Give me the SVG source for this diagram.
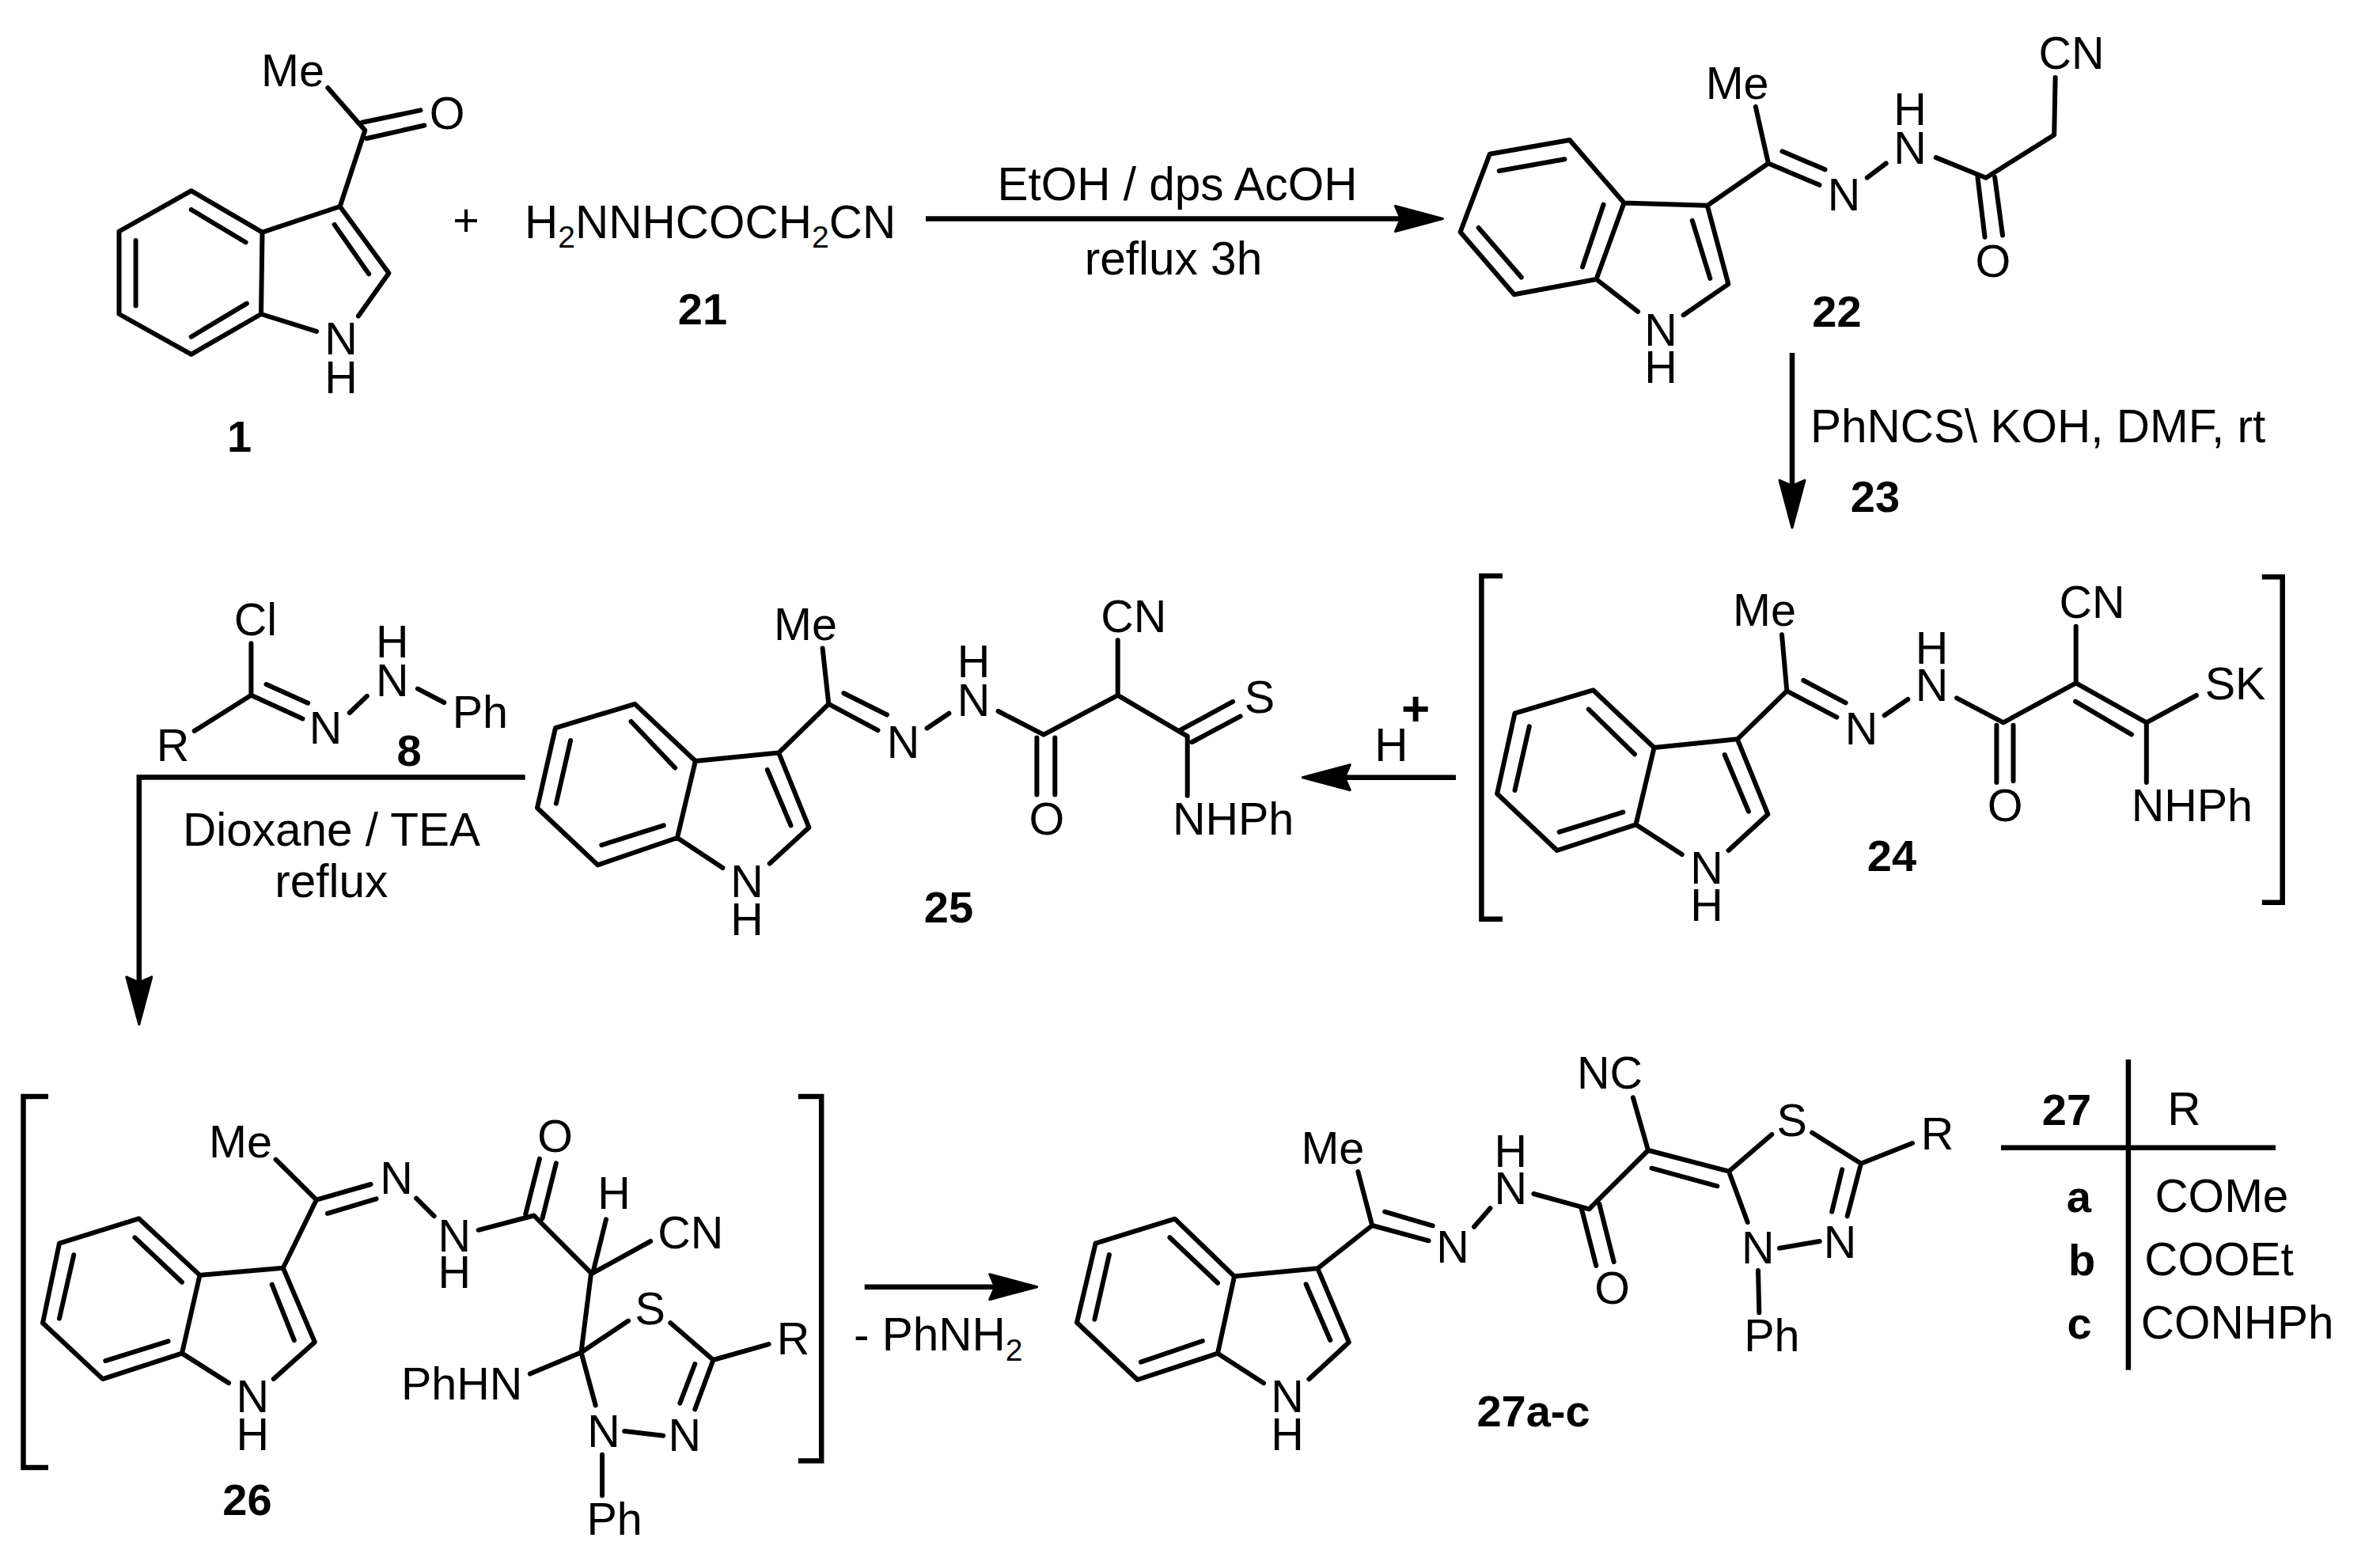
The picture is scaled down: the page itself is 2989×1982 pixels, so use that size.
<svg xmlns="http://www.w3.org/2000/svg" width="2989" height="1982" viewBox="0 0 2989 1982">
<style>
text{font-family:"Liberation Sans",Arial,sans-serif;font-size:57.5px;fill:#000;text-anchor:middle}
.r{font-size:58.5px}
.b{font-weight:bold;font-size:56px}
.l{text-anchor:start}
.sub{font-size:39px}
.bond{fill:none;stroke:#000;stroke-width:6;stroke-linecap:round;stroke-linejoin:round}
.br{fill:none;stroke:#000;stroke-width:6.5;stroke-linecap:butt;stroke-linejoin:miter}
.arrow{fill:none;stroke:#000;stroke-width:6.5;stroke-linecap:butt;stroke-linejoin:miter;marker-end:url(#head)}
</style>
<defs>
<marker id="head" markerUnits="userSpaceOnUse" viewBox="-3 -21 68 42" refX="7" refY="0" markerWidth="68" markerHeight="42" orient="auto">
<path d="M0,-16 L60,0 L0,16 L7,0 Z" fill="#000" stroke="#000" stroke-width="3" stroke-linejoin="round"/>
</marker>
</defs>
<rect width="2989" height="1982" fill="#fff"/>

<g id="connectors">
<path class="arrow" d="M1170,276.5 H1770.4"/>
<path class="arrow" d="M2265,446 V614"/>
<path class="arrow" d="M1840,982.7 H1699.3"/>
<path class="arrow" d="M663.7,982.4 H175.8 V1241.9"/>
<path class="arrow" d="M1092.7,1626.7 H1257.7"/>
</g>

<g id="arrow-labels">
<text class="r" x="1488" y="253.3">EtOH / dps AcOH</text>
<text class="r" x="1483" y="347.3">reflux 3h</text>
<text class="r l" x="2288" y="559">PhNCS\ KOH, DMF, rt</text>
<text class="b" x="2370" y="646.7">23</text>
<text class="r" x="1758.3" y="961.7">H</text>
<text class="b" x="1789" y="917" style="font-size:62px">+</text>
<text class="r" x="419" y="1069.3">Dioxane / TEA</text>
<text class="r" x="418.8" y="1134">reflux</text>
<text class="r l" x="1079" y="1707.3">- PhNH<tspan class="sub" dy="13">2</tspan></text>
</g>

<g id="compound-1">
<path class="bond" d="M331.5,293.6 L241.7,241.2 L150.5,292.5 L150.5,397 L241.7,447.9 L330,397 Z M331.5,293.6 L429.7,261 L491.4,345.3 L452.9,399.6 M330,397 L400,418.8 M429.7,261 L461.3,164.7 L414.3,111 M531.4,139.4 L457.8,154.7 M536.3,158.5 L463.4,175 M241.7,265 L310.5,306.3 M171.6,304 V386.6 M241.7,425.7 L311.9,383.6 M422.7,284 L466.2,346.4"/>
<text x="370" y="108.8">Me</text>
<text x="565" y="163">O</text>
<text x="431" y="447.9">N</text>
<text x="431" y="496.5">H</text>
<text class="b" x="302.7" y="571">1</text>
</g>
<text id="plus" x="589" y="298">+</text>
<g id="compound-21">
<text class="r l" x="663" y="300.5">H<tspan class="sub" dy="12.5">2</tspan><tspan dy="-12.5">NNHCOCH</tspan><tspan class="sub" dy="12.5">2</tspan><tspan dy="-12.5">CN</tspan></text>
<text class="b" x="888" y="409.6">21</text>
</g>

<g id="compound-22">
<path class="bond" d="M1983.8,177 L1882.8,194.8 L1845.6,293.2 L1913.6,372.2 L2017.5,353 L2052.5,256.4 Z M2052.5,256.4 L2157.8,259.8 L2184.4,359.1 L2127.6,398.2 M2017.5,353 L2070,393.8 M2157.8,259.8 L2234.9,206.5 L2218.8,134.9 M2234.9,206.5 L2299.5,233.8 M2252.5,191.3 L2306.5,214.3 M2359.8,224.7 L2383.7,206.5 M2446.8,199.1 L2509.9,224.7 L2596.2,170.5 L2597.6,98.1 M2499.4,223.8 L2508.5,299.7 M2521.1,223.8 L2531,297.6 M1894.7,216 L1977.5,201.3 M1868.7,288 L1922.8,350.5 M2026.6,258.5 L2000,337.5 M2138.8,278.9 L2161.3,351.8"/>
<text x="2618" y="87.2">CN</text>
<text x="2195.6" y="125">Me</text>
<text x="2414" y="157.9">H</text>
<text x="2414" y="206.5">N</text>
<text x="2330.6" y="266.3">N</text>
<text x="2518.9" y="349.6">O</text>
<text x="2099" y="437.2">N</text>
<text x="2099" y="484">H</text>
<text class="b" x="2321.5" y="412.5">22</text>
</g>

<g id="compound-24">
<path class="br" d="M1899,728 H1872.4 V1161.7 H1899 M2858.8,729.3 H2884.7 V1140.7 H2858.8"/>
<path class="bond" d="M2013.4,872.3 L1914.5,901.7 L1892.1,1003.3 L1967.9,1075 L2067.5,1042.3 L2090.6,945 Z M2090.6,945 L2195.8,934.3 L2234.4,1029.3 L2184.6,1075 M2067.5,1042.3 L2125.7,1080 M2195.8,934.3 L2258.3,873.3 L2252,802.3 M2258.3,873.3 L2321.4,906.7 M2279.3,860 L2332.6,888.3 M2381.7,904.3 L2411.2,884 M2473,882.3 L2531.9,913.3 L2623.7,863.3 V791.7 M2623.7,863.3 L2712.8,913.3 L2776,879 M2623,886.7 L2693.9,928.3 M2712.8,913.3 V989 M2523.4,916.7 V989 M2544.5,916.7 V987.3 M2007.8,896.7 L2066,953.3 M1932.8,918.3 L1914.5,999 M1970.7,1051.7 L2051.3,1026.7 M2179.7,954 L2209.9,1025.7"/>
<text x="2230" y="790.7">Me</text>
<text x="2644" y="781">CN</text>
<text x="2441.4" y="839">H</text>
<text x="2441.4" y="886">N</text>
<text x="2352.5" y="940.7">N</text>
<text x="2534" y="1038">O</text>
<text x="2825" y="884">SK</text>
<text x="2770.4" y="1038">NHPh</text>
<text x="2157" y="1116.7">N</text>
<text x="2157" y="1164.3">H</text>
<text class="b" x="2390.9" y="1101">24</text>
</g>

<g id="compound-8">
<path class="bond" d="M317.4,813.3 V878.8 L245.7,923.9 M317.4,878.8 L382.5,908.4 M336.5,865 L389.2,888.7 M441.8,901 L463.8,879.9 M527.9,870.6 L561.3,888"/>
<text x="323" y="802.9">Cl</text>
<text x="411.6" y="939.8">N</text>
<text x="495.8" y="879.9">N</text>
<text x="495.8" y="830.7">H</text>
<text x="606.8" y="919.5">Ph</text>
<text x="218.4" y="962">R</text>
<text class="b" x="517" y="967.6">8</text>
</g>

<g id="compound-25">
<path class="bond" d="M802.4,889.9 L702,920.2 L679,1021.2 L755.5,1093.4 L856,1059 L878.9,962 Z M878.9,962 L984.2,951.6 L1022.4,1046 L972.7,1091.5 M856,1059 L913.4,1097 M984.2,951.6 L1047.3,889.9 L1039.6,819.6 M1047.3,889.9 L1109.5,923.2 M1066.4,876.2 L1121,903.5 M1171.6,920.6 L1199.4,901.7 M1261.6,899 L1319,928.7 L1412.7,878.8 V809.2 M1412.7,878.8 L1500.7,930.6 V1005.7 M1491.1,923.2 L1558.1,886.9 M1506.5,938 L1567.7,905.4 M1310.4,932.4 V1004.6 M1333.3,932.4 V1004.6 M797.6,912 L853.1,970.5 M721.1,936 L702.9,1015.7 M760.3,1068.2 L838.8,1043.4 M969.8,973 L999.5,1043.4"/>
<text x="1018" y="809.2">Me</text>
<text x="1432.8" y="799.2">CN</text>
<text x="1230.5" y="855.5">H</text>
<text x="1230.5" y="904.7">N</text>
<text x="1141.5" y="958.3">N</text>
<text x="1592" y="901">S</text>
<text x="1322.8" y="1055.2">O</text>
<text x="1558.6" y="1055.2">NHPh</text>
<text x="944" y="1134">N</text>
<text x="944" y="1182">H</text>
<text class="b" x="1199" y="1166">25</text>
</g>

<g id="compound-26">
<path class="br" d="M61,1386 H29.5 V1855 H61 M1008.8,1386 H1038.2 V1846.5 H1008.8"/>
<path class="bond" d="M175.4,1540.3 L75,1571.7 L54,1672.3 L129.8,1743.1 L230,1710.6 L252.5,1611.9 Z M252.5,1611.9 L357.8,1602.7 L397.8,1696.4 L345.8,1743.1 M230,1710.6 L289,1748.1 M357.8,1602.7 L399.9,1516.6 L348.6,1465.7 M399.9,1516.6 L468.6,1497 M413.9,1533.8 L475.6,1515.4 M526.1,1514.7 L548.6,1537.2 M604.7,1554.8 L674.8,1536.5 L747.1,1609.2 M664.3,1534.6 L681.9,1464.9 M685.4,1540.3 L702.9,1470.3 M749.2,1609.2 L766,1541.4 M749.2,1609.2 L822.2,1569 M747.1,1609.2 L734.5,1709.4 L794.1,1669.6 M847.4,1672.3 L901.4,1719 L971.6,1699.1 M901.4,1719 L878.3,1781.4 M878.3,1724 L859.3,1773.7 M789.2,1809 L838.3,1814.7 M734.5,1709.4 L752.7,1776.4 M761.1,1838.8 V1890.5 M734.5,1709.4 L669.9,1736.6 M170.5,1564.4 L230,1620.7 M93.3,1586.2 L75,1666.6 M133.3,1720.2 L212.6,1695.3 M343.7,1623.7 L371.8,1694.1"/>
<text x="304" y="1463">Me</text>
<text x="500.9" y="1508.5">N</text>
<text x="574.2" y="1581.6">N</text>
<text x="574.2" y="1628.3">H</text>
<text x="701.5" y="1456">O</text>
<text x="775.9" y="1528">H</text>
<text x="872.7" y="1577.8">CN</text>
<text x="821.8" y="1674.2">S</text>
<text x="1002.5" y="1711.7">R</text>
<text x="583.7" y="1769.2">PhHN</text>
<text x="762.9" y="1829.2">N</text>
<text x="865.3" y="1833.8">N</text>
<text x="776.6" y="1939.5">Ph</text>
<text x="319.2" y="1785.2">N</text>
<text x="319.2" y="1833">H</text>
<text class="b" x="312.5" y="1914.6">26</text>
</g>

<g id="compound-27">
<path class="bond" d="M1484.8,1540.7 L1384.6,1571.7 L1361,1671.7 L1437.6,1744 L1539,1710.7 L1560,1613.3 Z M1560,1613.3 L1665.3,1603.3 L1704.8,1696.7 L1654.4,1743.3 M1539,1710.7 L1597,1748.3 M1665.3,1603.3 L1734.2,1549 L1716.3,1481 M1734.2,1549 L1805.6,1568.3 M1750.1,1531.7 L1810.7,1549.3 M1863,1550.7 L1883.4,1527.3 M1938.3,1509 L2008.4,1528.3 L2083,1454 L2063.9,1387.3 M2083,1454 L2185,1480.7 L2239.3,1434 M2087.5,1476.7 L2170.4,1499.3 M2185,1480.7 L2208.7,1545 M2222,1606 L2223.3,1659.3 M2248.9,1577.7 L2299.9,1569 M2290.3,1431.7 L2352,1470.7 L2417,1445 M2352,1470.7 L2334.7,1537.3 M2328.2,1478.3 L2315.2,1531.7 M1478.4,1564.3 L1539,1621.7 M1401.9,1586 L1383.4,1667.7 M1442,1721.7 L1519.9,1695 M1650.6,1623.3 L1681.2,1694 M1998.9,1528.3 L2017.3,1600 M2021.2,1521.7 L2039.7,1595"/>
<text x="1684.4" y="1471">Me</text>
<text x="2034.6" y="1376">NC</text>
<text x="2264.8" y="1435.7">S</text>
<text x="1909.2" y="1475">H</text>
<text x="1909.2" y="1522.3">N</text>
<text x="1835.9" y="1595.7">N</text>
<text x="2037.7" y="1648.3">O</text>
<text x="2221.7" y="1596.7">N</text>
<text x="2325.6" y="1590">N</text>
<text x="2239.3" y="1708.3">Ph</text>
<text x="2448.6" y="1453.3">R</text>
<text x="1627" y="1785">N</text>
<text x="1627" y="1833.3">H</text>
<text class="b" x="1938" y="1803.3">27a-c</text>
</g>

<g id="table-27">
<path class="br" d="M2689.9,1339.3 V1731.7 M2529,1450.7 H2876"/>
<text class="b" x="2612" y="1421.7">27</text>
<text class="r" x="2760.4" y="1421.7">R</text>
<text class="b" x="2627.4" y="1531.7">a</text>
<text class="r" x="2807.9" y="1531.7">COMe</text>
<text class="b" x="2631" y="1611.7">b</text>
<text class="r" x="2804.6" y="1611.7">COOEt</text>
<text class="b" x="2628" y="1691.7">c</text>
<text class="r" x="2827.6" y="1691.7">CONHPh</text>
</g>
</svg>
